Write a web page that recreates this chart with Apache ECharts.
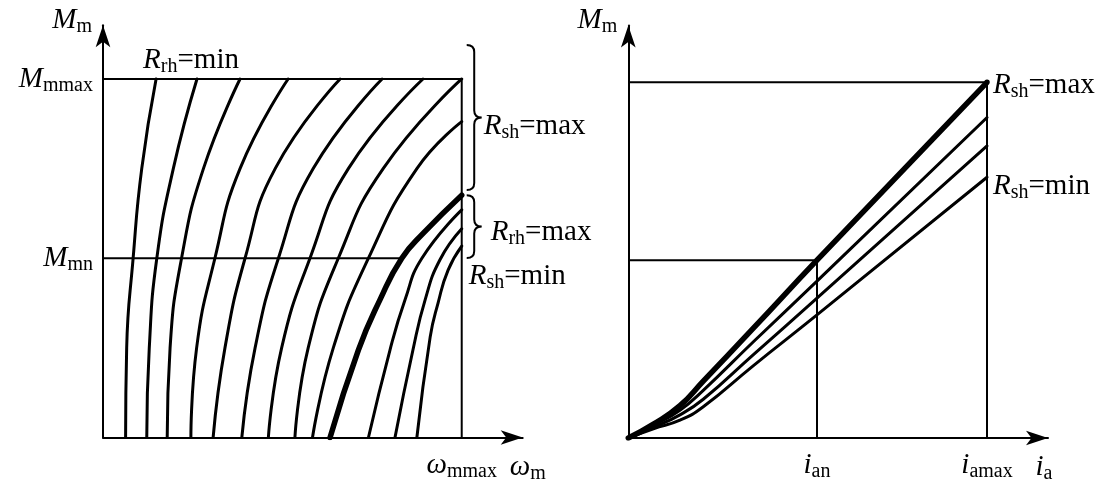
<!DOCTYPE html>
<html>
<head>
<meta charset="utf-8">
<script src="https://cdn.jsdelivr.net/npm/echarts@6/dist/echarts.min.js"></script>
<style>
  html, body { margin: 0; padding: 0; background: #fff; }
  #chart { width: 1107px; height: 484px; }
</style>
</head>
<body>
<div id="chart"></div>
<script>
// Speed and current characteristics of a DC traction motor.
// Left: torque M_m against speed ω_m (both in % of their maxima).
// Right: torque M_m against armature current i_a (in % of i_amax / M_mmax).

const M_N = 50;            // rated torque M_mn
const OMEGA_AT_MN = 83.3;  // speed where M_mn meets the bold characteristic
const I_AN = 52.6;         // rated armature current i_an

// Rheostatic characteristics, R_rh stepping up from min (ω, M)
const rheostatCurves = [
  [[6.3, 0], [6.6, 25], [8.4, 50], [10.8, 75], [14.8, 100]],
  [[12.2, 0], [12.9, 25], [15.0, 50], [19.6, 75], [26.2, 100]],
  [[17.9, 0], [18.7, 25], [21.9, 50], [28.0, 75], [38.2, 100]],
  [[24.5, 0], [26.1, 25], [31.2, 50], [38.2, 75], [51.6, 100]],
  [[30.7, 0], [34.0, 25], [39.6, 50], [48.0, 75], [66.1, 100]],
  [[38.7, 0], [42.4, 25], [48.9, 50], [58.6, 75], [77.8, 100]],
  [[46.1, 0], [49.8, 25], [57.7, 50], [68.4, 75], [89.2, 100]],
  [[53.5, 0], [57.2, 25], [65.6, 50], [78.1, 75], [100, 100]],
  [[58.4, 0], [64.2, 25], [74.0, 50], [87.5, 75], [100, 88.1]]
];

// Natural characteristic with R_rh = max (bold)
const naturalCurve = [[63.3, 0], [71.2, 24.4], [77.2, 38.4], [83.3, 50], [89.3, 57], [100, 67.6]];

// Field-weakening characteristics, R_sh stepping down to min
const shuntCurves = [
  [[74.0, 0], [80.0, 24.4], [84.2, 38.4], [88.9, 50], [100, 63.5]],
  [[81.4, 0], [86.4, 24.4], [89.8, 38.4], [93.9, 49.5], [100, 58.2]],
  [[87.5, 0], [91.2, 28], [93.4, 37.5], [96.2, 46.7], [100, 53.4]]
];

// Torque-current characteristics, R_sh = max (bold) down to R_sh = min (i, M)
const currentCurves = [
  [[0, 0], [7, 3.9], [14.4, 9.1], [20.9, 16.0], [34.8, 30.8], [52.6, 50], [100, 100]],
  [[0, 0], [7, 3.5], [14.4, 7.8], [20.9, 13.4], [34.8, 27.0], [52.6, 44.1], [100, 90.1]],
  [[0, 0], [7, 3.0], [14.4, 6.5], [20.9, 10.9], [34.8, 23.4], [52.6, 39.3], [100, 82.1]],
  [[0, 0], [7, 2.6], [14.4, 5.0], [20.9, 8.8], [34.8, 20.3], [52.6, 34.6], [100, 73.3]]
];

// Torque ranges grouped by braces on the left panel: [ω, M from, M to]
const braceSpans = [[100, 109.5, 69.0], [100, 67.6, 50.1]];

// Limit lines
const leftLimits = [[0, 100], [100, 100], [100, 0]];
const leftRated = [[0, M_N], [OMEGA_AT_MN, M_N]];
const rightLimits = [[0, 100], [100, 100], [100, 0]];
const rightRated = [[0, M_N], [I_AN, M_N], [I_AN, 0]];

const SERIF = '"Liberation Serif", "DejaVu Serif", serif';
const INK = '#000';
const rich = {
  it: { fontFamily: SERIF, fontStyle: 'italic', fontSize: 29, color: INK },
  up: { fontFamily: SERIF, fontSize: 29, color: INK },
  sb: { fontFamily: SERIF, fontSize: 20, color: INK, padding: [13, 0, 0, 0] }
};
function sym(main, sub, tail) {
  return '{it|' + main + '}{sb|' + sub + '}' + (tail ? '{up|' + tail + '}' : '');
}

const THIN = 3, BOLD = 5.5, FRAME = 2;

function lineSeries(data, idx, width, endText, offset) {
  const s = {
    type: 'line', data: data, xAxisIndex: idx, yAxisIndex: idx,
    showSymbol: false, symbol: 'none', smooth: 0.5, silent: true, animation: false,
    lineStyle: { color: INK, width: width, cap: 'round', join: 'round' }, z: 3
  };
  if (endText) {
    s.endLabel = {
      show: true, formatter: () => endText, position: 'right', distance: 0,
      align: 'left', verticalAlign: 'middle', offset: offset, rich: rich
    };
  }
  return s;
}
function guideSeries(data, idx) {
  return {
    type: 'line', data: data, xAxisIndex: idx, yAxisIndex: idx,
    showSymbol: false, symbol: 'none', silent: true, animation: false,
    lineStyle: { color: INK, width: FRAME }, z: 2
  };
}

const series = [guideSeries(leftLimits, 0), guideSeries(leftRated, 0)];
rheostatCurves.forEach((c, k) => {
  let label = null, off = null;
  if (k === 0) { label = sym('R', 'rh', '=min'); off = [-13, -19]; }
  if (k === rheostatCurves.length - 1) { label = sym('R', 'sh', '=max'); off = [22, 5]; }
  series.push(lineSeries(c, 0, THIN, label, off));
});
series.push(lineSeries(naturalCurve, 0, BOLD, sym('R', 'rh', '=max'), [29, 37]));
shuntCurves.forEach((c, k) => {
  const last = k === shuntCurves.length - 1;
  series.push(lineSeries(c, 0, THIN, last ? sym('R', 'sh', '=min') : null, [7, 30]));
});
series.push({
  type: 'custom', xAxisIndex: 0, yAxisIndex: 0, data: braceSpans, silent: true, animation: false,
  encode: { x: 0, y: [1, 2] },
  renderItem: function (params, api) {
    const p1 = api.coord([api.value(0), api.value(1)]);
    const p2 = api.coord([api.value(0), api.value(2)]);
    const x0 = p1[0] + 5, d = 15, r = 7, xm = x0 + d / 2;
    const y1 = p1[1], y2 = p2[1], ym = (y1 + y2) / 2;
    const path = 'M' + x0 + ' ' + y1 +
      ' Q' + xm + ' ' + y1 + ' ' + xm + ' ' + (y1 + r) +
      ' L' + xm + ' ' + (ym - r) +
      ' Q' + xm + ' ' + ym + ' ' + (x0 + d) + ' ' + ym +
      ' Q' + xm + ' ' + ym + ' ' + xm + ' ' + (ym + r) +
      ' L' + xm + ' ' + (y2 - r) +
      ' Q' + xm + ' ' + y2 + ' ' + x0 + ' ' + y2;
    return { type: 'path', shape: { pathData: path },
      style: { stroke: INK, fill: 'none', lineWidth: 2 } };
  }
});

series.push(guideSeries(rightLimits, 1), guideSeries(rightRated, 1));
currentCurves.forEach((c, k) => {
  let label = null, off = null;
  if (k === 0) { label = sym('R', 'sh', '=max'); off = [6, 3]; }
  if (k === currentCurves.length - 1) { label = sym('R', 'sh', '=min'); off = [6, 9]; }
  series.push(lineSeries(c, 1, k === 0 ? BOLD : THIN, label, off));
});

const axisLine = {
  show: true, symbol: ['none', 'arrow'], symbolSize: [11, 22],
  lineStyle: { color: INK, width: 2 }
};
function valueAxis(max, extra) {
  return Object.assign({
    type: 'value', min: 0, max: max, axisLine: axisLine,
    axisTick: { show: false }, splitLine: { show: false }
  }, extra);
}

const leftYLabels = { 50: sym('M', 'mn'), 100: sym('M', 'mmax') };
const leftXLabels = { 100: sym('ω', 'mmax') };
const rightXLabels = { 52.6: sym('i', 'an'), 100: sym('i', 'amax') };

const option = {
  backgroundColor: '#fff',
  animation: false,
  grid: [
    { left: 103, top: 25.2, width: 419.7, height: 412.3 },
    { left: 628.3, top: 25.4, width: 419.7, height: 415.3 }
  ],
  xAxis: [
    valueAxis(117, {
      gridIndex: 0,
      axisLabel: { customValues: [100], formatter: v => leftXLabels[v] || '', margin: 11, rich: rich },
      name: sym('ω', 'm'), nameLocation: 'end', nameGap: 5,
      nameTextStyle: { align: 'center', verticalAlign: 'top', padding: [13, 0, 0, 0], rich: rich }
    }),
    valueAxis(117, {
      gridIndex: 1,
      axisLabel: { customValues: [I_AN, 100], formatter: v => rightXLabels[v] || '', margin: 11, rich: rich },
      name: sym('i', 'a'), nameLocation: 'end', nameGap: -4,
      nameTextStyle: { align: 'center', verticalAlign: 'top', padding: [13, 0, 0, 0], rich: rich }
    })
  ],
  yAxis: [
    valueAxis(115, {
      gridIndex: 0,
      axisLabel: { customValues: [M_N, 100], formatter: v => leftYLabels[v] || '', margin: 10, rich: rich },
      name: sym('M', 'm'), nameLocation: 'end', nameGap: 5,
      nameTextStyle: { align: 'right', verticalAlign: 'middle', padding: [0, 11, 0, 0], rich: rich }
    }),
    valueAxis(116, {
      gridIndex: 1,
      axisLabel: { show: false },
      name: sym('M', 'm'), nameLocation: 'end', nameGap: 5,
      nameTextStyle: { align: 'right', verticalAlign: 'middle', padding: [0, 11, 0, 0], rich: rich }
    })
  ],
  series: series
};

const chart = echarts.init(document.getElementById('chart'), null, { renderer: 'canvas' });
chart.setOption(option);
</script>
</body>
</html>
